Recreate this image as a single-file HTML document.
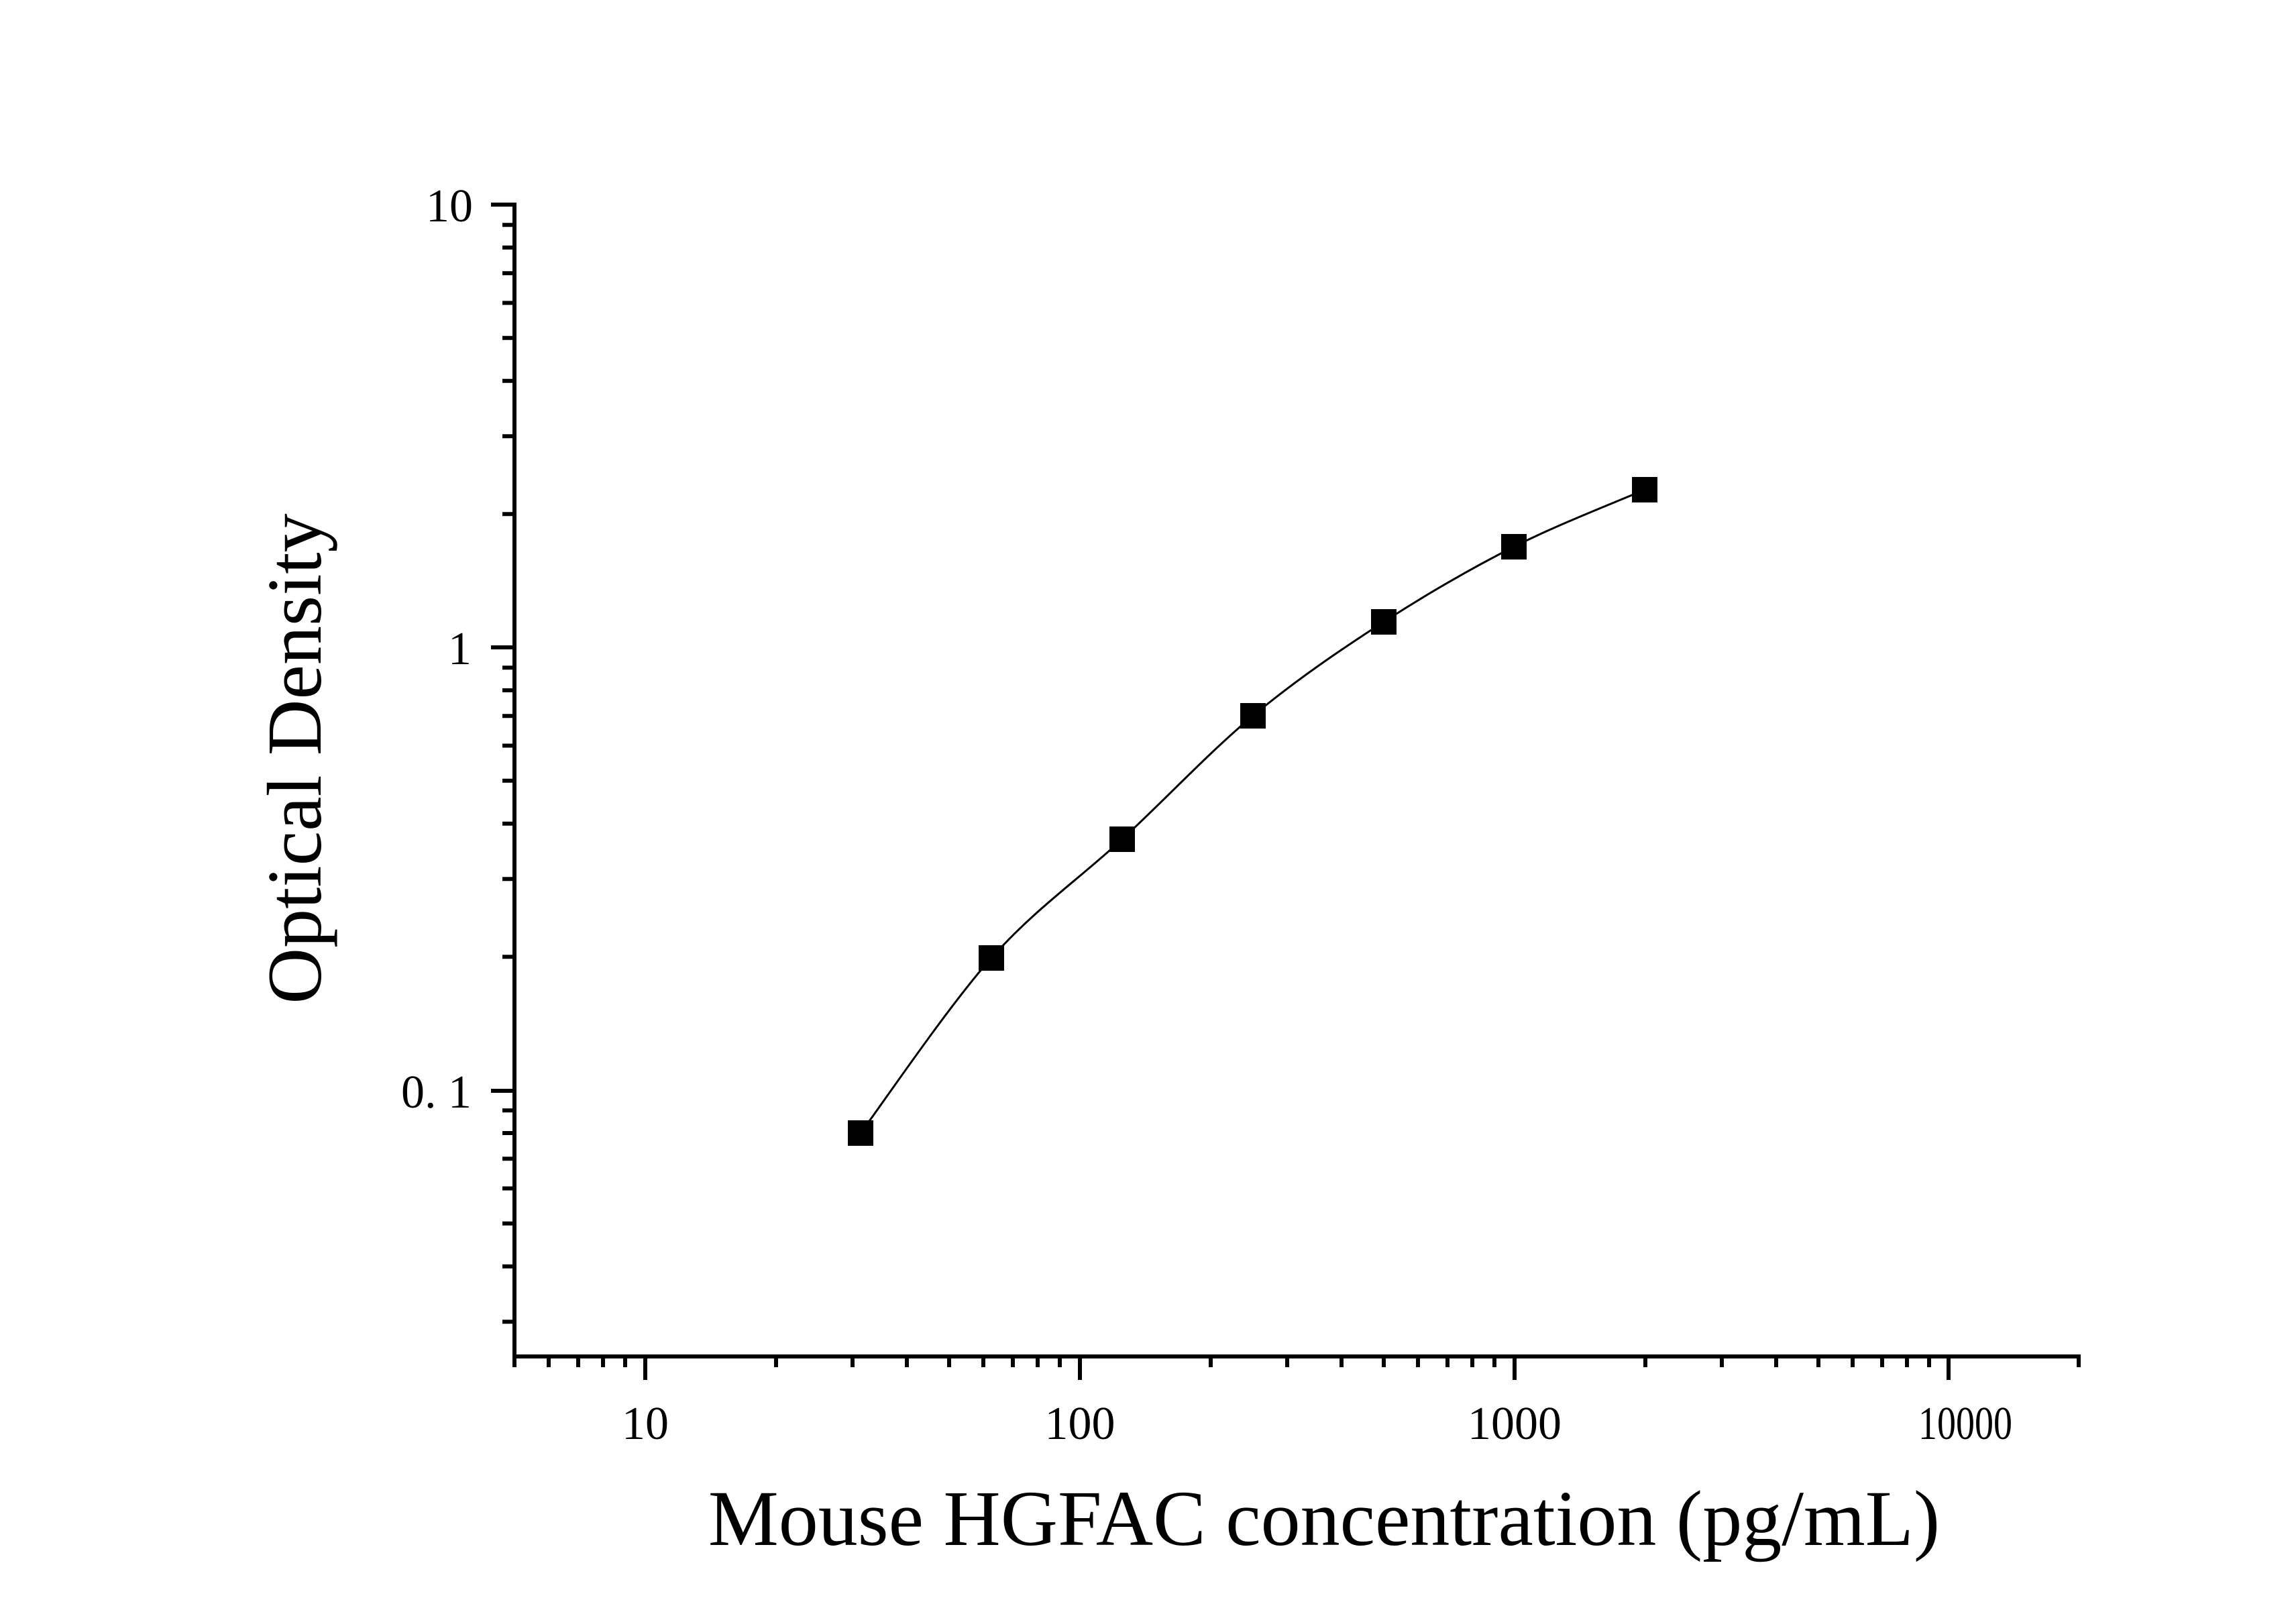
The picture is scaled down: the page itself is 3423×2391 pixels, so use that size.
<!DOCTYPE html>
<html><head><meta charset="utf-8"><style>
html,body{margin:0;padding:0;background:#fff;}
svg{display:block;}
text{font-family:"Liberation Serif","Noto Serif CJK SC",serif;fill:#000;}
</style></head><body>
<svg width="3423" height="2391" viewBox="0 0 3423 2391" xmlns="http://www.w3.org/2000/svg">
<g stroke="#000" stroke-width="6" fill="none">
<line x1="767" y1="302" x2="767" y2="2025"/>
<line x1="764" y1="2022" x2="3102" y2="2022"/>
<line x1="732" y1="305" x2="767" y2="305"/>
<line x1="732" y1="965" x2="767" y2="965"/>
<line x1="732" y1="1626" x2="767" y2="1626"/>
<g>
<line x1="749" y1="335.3" x2="767" y2="335.3"/><line x1="749" y1="369" x2="767" y2="369"/><line x1="749" y1="407.3" x2="767" y2="407.3"/><line x1="749" y1="451.5" x2="767" y2="451.5"/><line x1="749" y1="503.7" x2="767" y2="503.7"/><line x1="749" y1="567.7" x2="767" y2="567.7"/><line x1="749" y1="650.2" x2="767" y2="650.2"/><line x1="749" y1="766.3" x2="767" y2="766.3"/>
<line x1="749" y1="995.3" x2="767" y2="995.3"/><line x1="749" y1="1029" x2="767" y2="1029"/><line x1="749" y1="1067.3" x2="767" y2="1067.3"/><line x1="749" y1="1111.5" x2="767" y2="1111.5"/><line x1="749" y1="1163.7" x2="767" y2="1163.7"/><line x1="749" y1="1227.7" x2="767" y2="1227.7"/><line x1="749" y1="1310.2" x2="767" y2="1310.2"/><line x1="749" y1="1426.3" x2="767" y2="1426.3"/>
<line x1="749" y1="1655.3" x2="767" y2="1655.3"/><line x1="749" y1="1689" x2="767" y2="1689"/><line x1="749" y1="1727.3" x2="767" y2="1727.3"/><line x1="749" y1="1771.5" x2="767" y2="1771.5"/><line x1="749" y1="1823.7" x2="767" y2="1823.7"/><line x1="749" y1="1887.7" x2="767" y2="1887.7"/><line x1="749" y1="1970.2" x2="767" y2="1970.2"/>
</g>
<line x1="962" y1="2022" x2="962" y2="2057"/>
<line x1="1610" y1="2022" x2="1610" y2="2057"/>
<line x1="2258" y1="2022" x2="2258" y2="2057"/>
<line x1="2905" y1="2022" x2="2905" y2="2057"/>
<g>
<line x1="767" y1="2022" x2="767" y2="2038"/>
<line x1="818" y1="2022" x2="818" y2="2038"/><line x1="862" y1="2022" x2="862" y2="2038"/><line x1="899" y1="2022" x2="899" y2="2038"/><line x1="932" y1="2022" x2="932" y2="2038"/>
<line x1="1157" y1="2022" x2="1157" y2="2038"/><line x1="1271" y1="2022" x2="1271" y2="2038"/><line x1="1352" y1="2022" x2="1352" y2="2038"/><line x1="1415" y1="2022" x2="1415" y2="2038"/><line x1="1466" y1="2022" x2="1466" y2="2038"/><line x1="1510" y1="2022" x2="1510" y2="2038"/><line x1="1547" y1="2022" x2="1547" y2="2038"/><line x1="1580" y1="2022" x2="1580" y2="2038"/>
<line x1="1805" y1="2022" x2="1805" y2="2038"/><line x1="1919" y1="2022" x2="1919" y2="2038"/><line x1="2000" y1="2022" x2="2000" y2="2038"/><line x1="2063" y1="2022" x2="2063" y2="2038"/><line x1="2114" y1="2022" x2="2114" y2="2038"/><line x1="2158" y1="2022" x2="2158" y2="2038"/><line x1="2195" y1="2022" x2="2195" y2="2038"/><line x1="2228" y1="2022" x2="2228" y2="2038"/>
<line x1="2453" y1="2022" x2="2453" y2="2038"/><line x1="2567" y1="2022" x2="2567" y2="2038"/><line x1="2648" y1="2022" x2="2648" y2="2038"/><line x1="2711" y1="2022" x2="2711" y2="2038"/><line x1="2762" y1="2022" x2="2762" y2="2038"/><line x1="2806" y1="2022" x2="2806" y2="2038"/><line x1="2843" y1="2022" x2="2843" y2="2038"/><line x1="2876" y1="2022" x2="2876" y2="2038"/>
<line x1="3099" y1="2022" x2="3099" y2="2038"/>
</g>
</g>
<path d="M1283,1689 C1315.5,1645.5 1413,1501 1478,1428 C1543,1355 1608,1311 1673,1251 C1738,1191 1803,1121 1868,1067 C1933,1013 1998,969 2063,927 C2128,885 2192,848 2257,815 C2322,782 2420,744 2452,730" stroke="#000" stroke-width="3" fill="none"/>
<g fill="#000">
<rect x="1264" y="1670" width="38" height="38"/>
<rect x="1459" y="1409" width="38" height="38"/>
<rect x="1654" y="1232" width="38" height="38"/>
<rect x="1849" y="1048" width="38" height="38"/>
<rect x="2044" y="908" width="38" height="38"/>
<rect x="2238" y="796" width="38" height="38"/>
<rect x="2433" y="711" width="38" height="38"/>
</g>
<g font-size="70">
<text x="705" y="330" text-anchor="end">10</text>
<text x="703" y="990" text-anchor="end">1</text>
<text x="703" y="1651" text-anchor="end">0. 1</text>
<text x="962" y="2145" text-anchor="middle">10</text>
<text x="1610" y="2145" text-anchor="middle">100</text>
<text x="2258" y="2145" text-anchor="middle">1000</text>
<text x="2930" y="2145" text-anchor="middle" textLength="140" lengthAdjust="spacingAndGlyphs">10000</text>
</g>
<text x="1974" y="2303" font-size="118" text-anchor="middle">Mouse HGFAC concentration (pg/mL)</text>
<text transform="translate(478,1131) rotate(-90)" font-size="116" text-anchor="middle">Optical Density</text>
</svg>
</body></html>
